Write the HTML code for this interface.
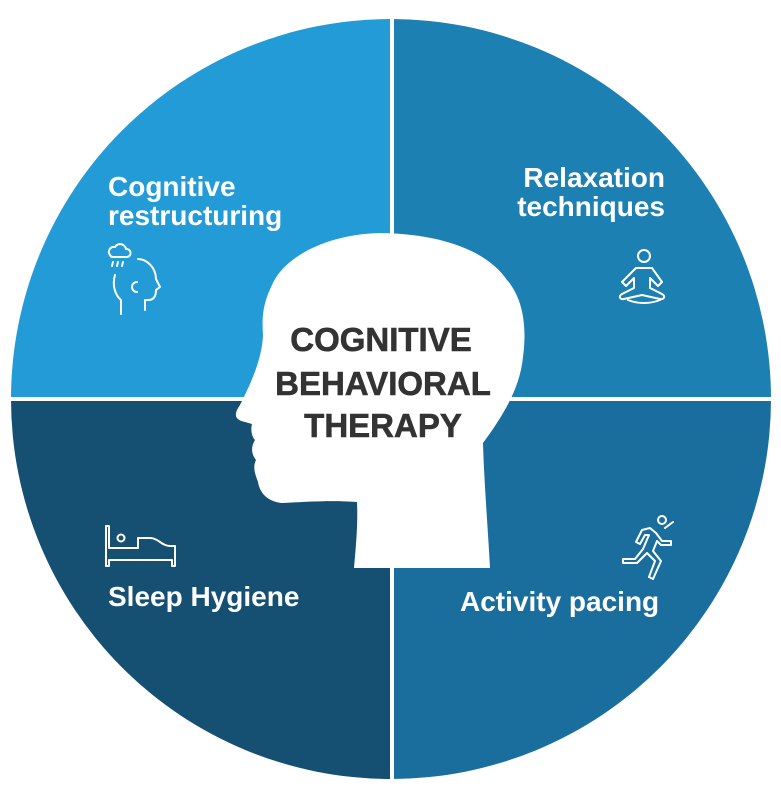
<!DOCTYPE html>
<html><head><meta charset="utf-8"><style>
html,body{margin:0;padding:0;background:#fff;}
svg{display:block}
</style></head><body>
<svg width="781" height="800" viewBox="0 0 781 800" xmlns="http://www.w3.org/2000/svg">
<defs><clipPath id="c"><circle cx="391" cy="399" r="380"/></clipPath></defs>
<g clip-path="url(#c)">
<rect x="0" y="0" width="390" height="397" fill="#229bd7"/>
<rect x="394" y="0" width="400" height="397" fill="#1c80b2"/>
<rect x="0" y="401" width="390" height="400" fill="#155072"/>
<rect x="394" y="401" width="400" height="400" fill="#1a6e9e"/>
</g>
<path d="M380,233 C330,234 285,255 272,285 C262,305 262,320 263,335 C262,360 250,385 240,405 C233,415 235,420 245,422 L252,424 C250,432 253,438 255,440 C250,448 252,455 256,460 C252,468 256,476 258,482 C260,495 270,502 282,503 C305,502 330,500 357,502 C358,525 356,545 354,568 L490,568 C488,530 484,480 483,443 C500,420 520,390 523,357 C528,320 520,295 507,280 C490,255 450,234 380,233 Z" fill="#fff"/>
<g font-family="'Liberation Sans',sans-serif" font-weight="bold" fill="#333" font-size="33" text-anchor="middle" stroke="#333" stroke-width="0.6">
<text x="381" y="351">COGNITIVE</text>
<text x="383" y="395">BEHAVIORAL</text>
<text x="383" y="437">THERAPY</text>
</g>
<g font-family="'Liberation Sans',sans-serif" font-weight="bold" fill="#fff" font-size="28">
<text x="108" y="196">Cognitive</text>
<text x="108" y="225">restructuring</text>
<text x="665" y="187" text-anchor="end">Relaxation</text>
<text x="665" y="216" text-anchor="end">techniques</text>
<text x="108" y="606">Sleep Hygiene</text>
<text x="460" y="611">Activity pacing</text>
</g>
<g fill="none" stroke="#fff" stroke-width="2" stroke-linecap="round" stroke-linejoin="round">
<path d="M110,255 a5,5 0 0 1 5,-8 a6,6 0 0 1 11,2 a4,4 0 0 1 1,8 h-14 a3,3 0 0 1 -3,-2z"/>
<path d="M113,262 l-1,4 M118,262 l-1,4 M123,262 l-1,4"/>
<path d="M138,259 c8,0 18,8 18,20 l4,8 -4,3 c0,6 -2,10 -8,10 l-3,0 v10"/>
<path d="M115,275 c-3,10 0,20 6,25 v14"/>
<path d="M137,282 a5,5 0 0 0 0,10"/>
<circle cx="644" cy="256" r="6"/>
<path d="M636,268 h16 l10,14 -4,4 -8,-8 v10 l12,6 c4,2 2,6 -2,5 l-18,-4 -18,4 c-4,1 -6,-3 -2,-5 l12,-6 v-10 l-8,8 -4,-4z"/>
<path d="M628,300 c10,4 22,4 32,0"/>
<path d="M106,526 v40 h3 v-6 h63 v6 h3 v-20 h-5 c-8,0 -12,-8 -20,-8 h-12 v10 h-29 v-22z"/>
<circle cx="121" cy="538" r="3.5"/>
<circle cx="662" cy="520" r="4"/>
<path d="M650,528 l-8,2 -6,12 4,2 5,-9 4,0 -6,14 -8,10 h-12 v4 h14 l10,-10 8,8 -6,16 4,2 8,-18 -8,-10 4,-10 4,4 10,0 0,-4 -9,0 -6,-8z"/>
<path d="M665,528 l8,-6"/>
</g>
</svg>
</body></html>
